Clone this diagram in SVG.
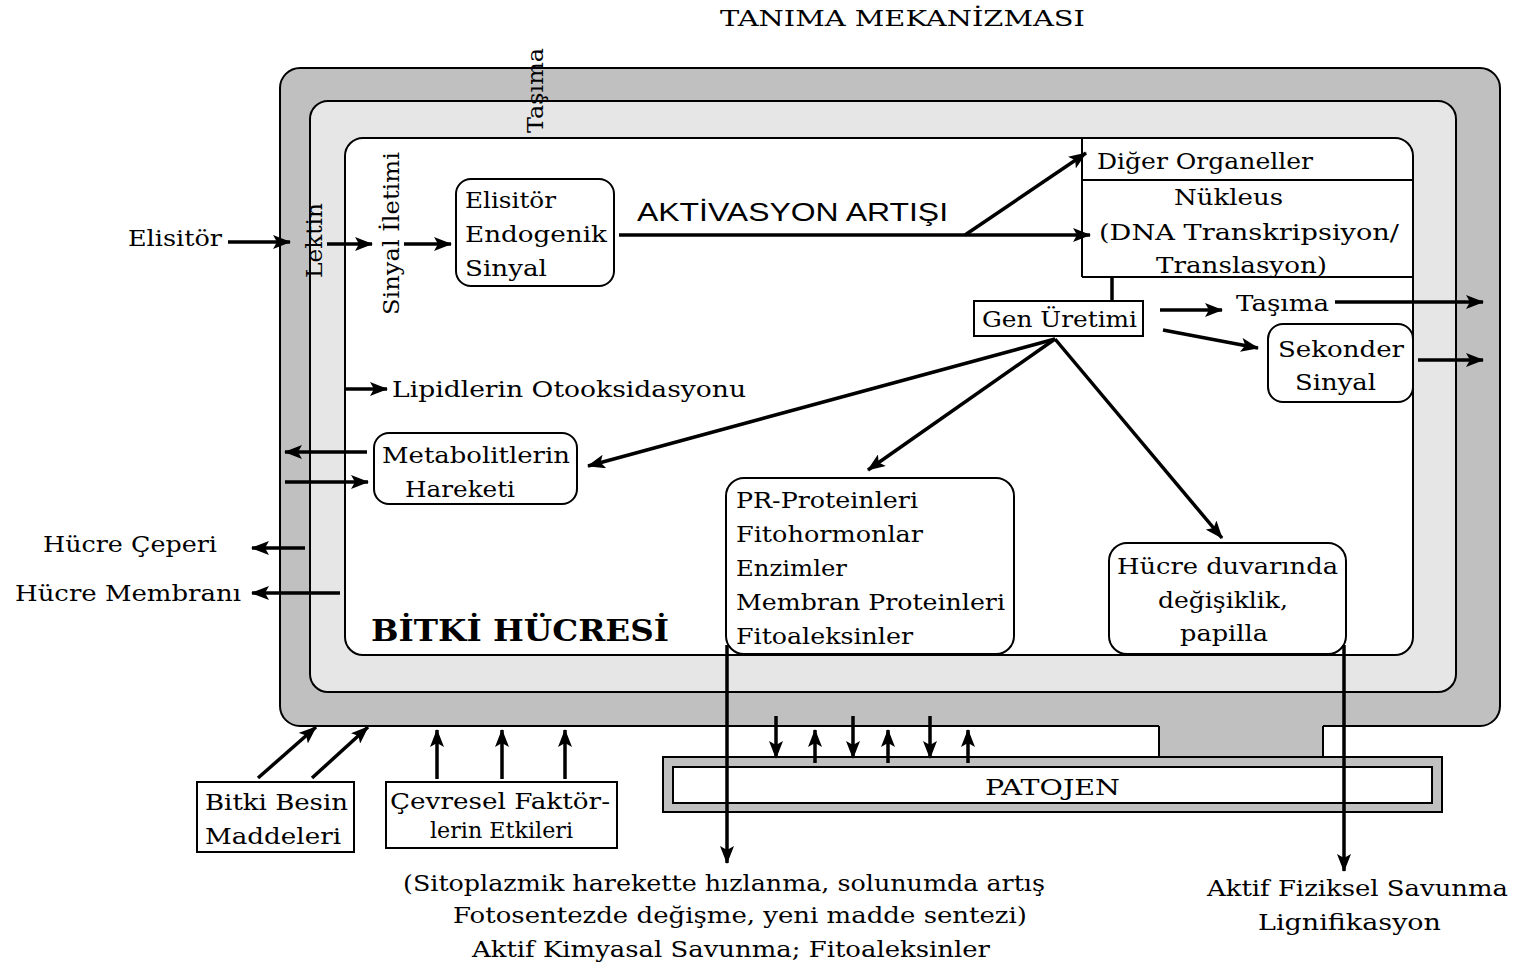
<svg xmlns="http://www.w3.org/2000/svg" width="1515" height="967" viewBox="0 0 1515 967">
<style>
.t{font-family:"DejaVu Serif","Liberation Serif",serif;font-size:23px;fill:#000}
.s{font-family:"Liberation Sans","DejaVu Sans",sans-serif;font-size:25px;fill:#000}
.b{font-family:"DejaVu Serif","Liberation Serif",serif;font-size:29px;font-weight:bold;fill:#000}
.box{fill:#fff;stroke:#000;stroke-width:2}
.ln{stroke:#000;stroke-width:2;fill:none}
.ar{stroke:#000;stroke-width:3.5;fill:none;marker-end:url(#ah)}
.pl{stroke:#000;stroke-width:3.5;fill:none}
</style>
<defs>
<marker id="ah" viewBox="0 0 18 14" refX="17" refY="7" markerWidth="18" markerHeight="14" orient="auto" markerUnits="userSpaceOnUse">
<path d="M0,0 L18,7 L0,14 L4,7 Z" fill="#000"/>
</marker>
</defs>
<rect width="1515" height="967" fill="#fff"/>

<g id="cell-wall">
<rect x="280" y="68" width="1220" height="658" rx="20" fill="#c0c0c0" stroke="#000" stroke-width="2"/>
<rect x="1159" y="724" width="164" height="35" fill="#c0c0c0"/>
<line class="ln" x1="1159" y1="726" x2="1159" y2="758"/>
<line class="ln" x1="1323" y1="726" x2="1323" y2="758"/>
</g>
<g id="membrane">
<rect x="310" y="101" width="1146" height="591" rx="18" fill="#e6e6e6" stroke="#000" stroke-width="2"/>
</g>
<g id="cytoplasm">
<rect x="345" y="138" width="1068" height="517" rx="18" fill="#fff" stroke="#000" stroke-width="2"/>
<text class="b" x="371" y="641" textLength="298" lengthAdjust="spacingAndGlyphs">BİTKİ HÜCRESİ</text>
</g>

<g id="patojen">
<rect x="663" y="757" width="779" height="55" fill="#c0c0c0" stroke="#000" stroke-width="2"/>
<rect x="673" y="767" width="759" height="36" fill="#fff" stroke="#000" stroke-width="2"/>
<text class="t" x="985" y="795" textLength="135" lengthAdjust="spacingAndGlyphs">PATOJEN</text>
</g>

<g id="title">
<text class="t" x="720" y="26" font-size="22" textLength="365" lengthAdjust="spacingAndGlyphs">TANIMA MEKANİZMASI</text>
</g>

<g id="label-tasima-top">
<text class="t" transform="translate(543,133) rotate(-90)" textLength="85" lengthAdjust="spacingAndGlyphs">Taşıma</text>
</g>
<g id="label-lektin">
<text class="t" transform="translate(322,278) rotate(-90)" textLength="75" lengthAdjust="spacingAndGlyphs">Lektin</text>
</g>
<g id="label-sinyal-iletimi">
<text class="t" transform="translate(399,315) rotate(-90)" textLength="163" lengthAdjust="spacingAndGlyphs">Sinyal İletimi</text>
</g>

<g id="label-elisitor">
<text class="t" x="128" y="246" textLength="94" lengthAdjust="spacingAndGlyphs">Elisitör</text>
</g>

<g id="node-elisitor-endogenik">
<rect class="box" x="456" y="179" width="158" height="107" rx="15"/>
<text class="t" x="465" y="208" textLength="91" lengthAdjust="spacingAndGlyphs">Elisitör</text>
<text class="t" x="465" y="242" textLength="142" lengthAdjust="spacingAndGlyphs">Endogenik</text>
<text class="t" x="465" y="276" textLength="82" lengthAdjust="spacingAndGlyphs">Sinyal</text>
</g>

<g id="label-aktivasyon">
<text class="s" x="637" y="221" textLength="311" lengthAdjust="spacingAndGlyphs">AKTİVASYON ARTIŞI</text>
</g>

<g id="node-nukleus">
<line class="ln" x1="1082" y1="138" x2="1082" y2="277"/>
<line class="ln" x1="1082" y1="180" x2="1413" y2="180"/>
<line class="ln" x1="1082" y1="277" x2="1413" y2="277"/>
<text class="t" x="1097" y="169" textLength="216" lengthAdjust="spacingAndGlyphs">Diğer Organeller</text>
<text class="t" x="1174" y="205" textLength="109" lengthAdjust="spacingAndGlyphs">Nükleus</text>
<text class="t" x="1099" y="240" textLength="300" lengthAdjust="spacingAndGlyphs">(DNA Transkripsiyon/</text>
<text class="t" x="1156" y="273" textLength="171" lengthAdjust="spacingAndGlyphs">Translasyon)</text>
</g>

<g id="node-gen-uretimi">
<rect class="box" x="974" y="301" width="169" height="35"/>
<text class="t" x="982" y="327" textLength="155" lengthAdjust="spacingAndGlyphs">Gen Üretimi</text>
</g>

<g id="label-tasima-right">
<text class="t" x="1236" y="311" textLength="93" lengthAdjust="spacingAndGlyphs">Taşıma</text>
</g>

<g id="node-sekonder">
<rect class="box" x="1268" y="324" width="145" height="78" rx="15"/>
<text class="t" x="1278" y="357" textLength="126" lengthAdjust="spacingAndGlyphs">Sekonder</text>
<text class="t" x="1295" y="390" textLength="81" lengthAdjust="spacingAndGlyphs">Sinyal</text>
</g>

<g id="label-lipid">
<text class="t" x="392" y="397" textLength="354" lengthAdjust="spacingAndGlyphs">Lipidlerin Otooksidasyonu</text>
</g>

<g id="node-metabolit">
<rect class="box" x="374" y="433" width="203" height="71" rx="15"/>
<text class="t" x="382" y="463" textLength="188" lengthAdjust="spacingAndGlyphs">Metabolitlerin</text>
<text class="t" x="405" y="497" textLength="110" lengthAdjust="spacingAndGlyphs">Hareketi</text>
</g>

<g id="node-pr">
<rect class="box" x="726" y="478" width="288" height="176" rx="18"/>
<text class="t" x="736" y="508" textLength="182" lengthAdjust="spacingAndGlyphs">PR-Proteinleri</text>
<text class="t" x="736" y="542" textLength="187" lengthAdjust="spacingAndGlyphs">Fitohormonlar</text>
<text class="t" x="736" y="576" textLength="111" lengthAdjust="spacingAndGlyphs">Enzimler</text>
<text class="t" x="736" y="610" textLength="269" lengthAdjust="spacingAndGlyphs">Membran Proteinleri</text>
<text class="t" x="736" y="644" textLength="177" lengthAdjust="spacingAndGlyphs">Fitoaleksinler</text>
</g>

<g id="node-hucre-duvari">
<rect class="box" x="1109" y="543" width="237" height="111" rx="18"/>
<text class="t" x="1117" y="574" textLength="221" lengthAdjust="spacingAndGlyphs">Hücre duvarında</text>
<text class="t" x="1158" y="608" textLength="130" lengthAdjust="spacingAndGlyphs">değişiklik,</text>
<text class="t" x="1180" y="641" textLength="88" lengthAdjust="spacingAndGlyphs">papilla</text>
</g>

<g id="label-hucre-ceperi">
<text class="t" x="43" y="552" textLength="174" lengthAdjust="spacingAndGlyphs">Hücre Çeperi</text>
</g>
<g id="label-hucre-membrani">
<text class="t" x="15" y="601" textLength="226" lengthAdjust="spacingAndGlyphs">Hücre Membranı</text>
</g>

<g id="node-bitki-besin">
<rect class="box" x="197" y="782" width="157" height="70"/>
<text class="t" x="205" y="810" textLength="143" lengthAdjust="spacingAndGlyphs">Bitki Besin</text>
<text class="t" x="205" y="844" textLength="136" lengthAdjust="spacingAndGlyphs">Maddeleri</text>
</g>

<g id="node-cevresel">
<rect class="box" x="386" y="782" width="231" height="66"/>
<text class="t" x="390" y="809" textLength="220" lengthAdjust="spacingAndGlyphs">Çevresel Faktör-</text>
<text class="t" x="430" y="838" textLength="143" lengthAdjust="spacingAndGlyphs">lerin Etkileri</text>
</g>

<g id="label-kimyasal">
<text class="t" x="403" y="891" textLength="642" lengthAdjust="spacingAndGlyphs">(Sitoplazmik harekette hızlanma, solunumda artış</text>
<text class="t" x="453" y="923" textLength="574" lengthAdjust="spacingAndGlyphs">Fotosentezde değişme, yeni madde sentezi)</text>
<text class="t" x="472" y="957" textLength="518" lengthAdjust="spacingAndGlyphs">Aktif Kimyasal Savunma; Fitoaleksinler</text>
</g>

<g id="label-fiziksel">
<text class="t" x="1207" y="896" textLength="301" lengthAdjust="spacingAndGlyphs">Aktif Fiziksel Savunma</text>
<text class="t" x="1258" y="930" textLength="183" lengthAdjust="spacingAndGlyphs">Lignifikasyon</text>
</g>

<g id="connectors">
<line class="pl" x1="1112" y1="277" x2="1112" y2="301"/>
<line class="ar" x1="228" y1="242" x2="290" y2="242"/>
<line class="ar" x1="327" y1="244" x2="372" y2="244"/>
<line class="ar" x1="404" y1="244" x2="451" y2="244"/>
<line class="ar" x1="619" y1="235" x2="1090" y2="235"/>
<line class="ar" x1="965" y1="235" x2="1086" y2="153"/>
<line class="ar" x1="1160" y1="310" x2="1222" y2="310"/>
<line class="ar" x1="1335" y1="302" x2="1483" y2="302"/>
<line class="ar" x1="1163" y1="330" x2="1258" y2="348"/>
<line class="ar" x1="1418" y1="360" x2="1483" y2="360"/>
<line class="ar" x1="1055" y1="339" x2="588" y2="466"/>
<line class="ar" x1="1055" y1="339" x2="868" y2="470"/>
<line class="ar" x1="1055" y1="339" x2="1222" y2="538"/>
<line class="ar" x1="346" y1="389" x2="387" y2="389"/>
<line class="ar" x1="367" y1="452" x2="285" y2="452"/>
<line class="ar" x1="285" y1="482" x2="368" y2="482"/>
<line class="ar" x1="305" y1="548" x2="252" y2="548"/>
<line class="ar" x1="340" y1="593" x2="252" y2="593"/>
<line class="ar" x1="727" y1="645" x2="727" y2="863"/>
<line class="ar" x1="1344" y1="645" x2="1344" y2="871"/>
<line class="ar" x1="258" y1="778" x2="316" y2="727"/>
<line class="ar" x1="312" y1="778" x2="368" y2="727"/>
<line class="ar" x1="437" y1="779" x2="437" y2="730"/>
<line class="ar" x1="502" y1="779" x2="502" y2="730"/>
<line class="ar" x1="565" y1="779" x2="565" y2="730"/>
<line class="ar" x1="776" y1="716" x2="776" y2="758"/>
<line class="ar" x1="815" y1="763" x2="815" y2="730"/>
<line class="ar" x1="853" y1="716" x2="853" y2="758"/>
<line class="ar" x1="888" y1="763" x2="888" y2="730"/>
<line class="ar" x1="930" y1="716" x2="930" y2="758"/>
<line class="ar" x1="968" y1="763" x2="968" y2="730"/>
</g>
</svg>
